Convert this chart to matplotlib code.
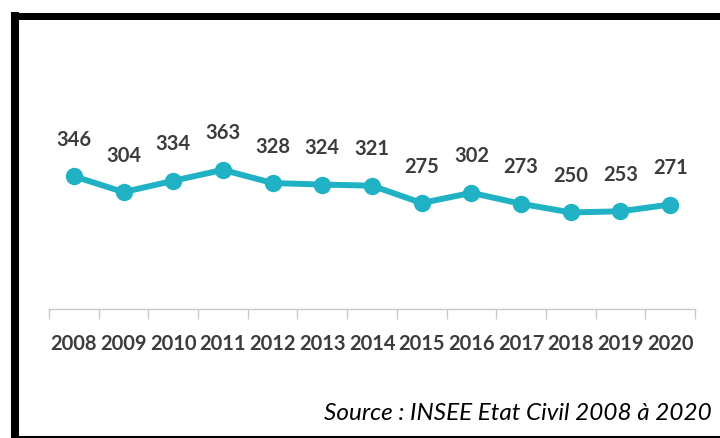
import matplotlib

matplotlib.use("Agg")
import matplotlib.pyplot as plt
from matplotlib.lines import Line2D
import numpy as np

# Annual counts, INSEE Etat Civil
years = ["2008", "2009", "2010", "2011", "2012", "2013", "2014",
         "2015", "2016", "2017", "2018", "2019", "2020"]
counts = [346, 304, 334, 363, 328, 324, 321, 275, 302, 273, 250, 253, 271]
source_text = "Source : INSEE Etat Civil 2008 à 2020"

LINE_COLOR = "#20B2C4"
TEXT_COLOR = "#3c3c3c"
W, H = 720, 439

plt.rcParams["font.family"] = ["Lato", "DejaVu Sans"]

fig = plt.figure(figsize=(W / 100, H / 100), dpi=100)


def px_box(x0, y0, x1, y1):
    """Pixel box (top-left origin) -> figure fraction [left, bottom, w, h]."""
    return [x0 / W, 1 - y1 / H, (x1 - x0) / W, (y1 - y0) / H]


ax = fig.add_axes(px_box(49, 40, 695, 310))

x = np.arange(len(years))
ax.plot(x, counts, color=LINE_COLOR, linewidth=4.3, marker="o",
        markersize=11.5, solid_capstyle="round", zorder=3)

for xi, val in zip(x, counts):
    ax.annotate(str(val), (xi, val), xytext=(0, 27), textcoords="offset points",
                ha="center", va="center", fontsize=14.5, fontweight="bold",
                color=TEXT_COLOR)

ax.set_xlim(-0.5, len(years) - 0.5)
ax.set_ylim(-6, 710)

# category labels at centres, tick marks on the boundaries
ax.set_xticks(x)
ax.set_xticklabels(years, fontsize=14.5, fontweight="bold", color=TEXT_COLOR)
ax.tick_params(axis="x", which="major", length=0, pad=17)
ax.set_xticks(np.arange(-0.5, len(years)), minor=True)
ax.tick_params(axis="x", which="minor", length=7, width=1, color="#c8c8c8")
ax.set_yticks([])

for side in ["top", "left", "right"]:
    ax.spines[side].set_visible(False)
ax.spines["bottom"].set_color("#c8c8c8")
ax.spines["bottom"].set_linewidth(1)

fig.text(712 / W, 1 - 414 / H, source_text, ha="right", va="center",
         fontsize=17.5, fontstyle="italic", color="black")

# black frame around the chart (top, left, bottom)
fig.add_artist(Line2D([11 / W, 1], [1 - 17 / H, 1 - 17 / H], color="black",
                      linewidth=5, solid_capstyle="butt",
                      transform=fig.transFigure))
fig.add_artist(Line2D([15 / W, 15 / W], [1 - 13 / H, 0], color="black",
                      linewidth=5.8, solid_capstyle="butt",
                      transform=fig.transFigure))
fig.add_artist(Line2D([11 / W, 1], [1 - 438 / H, 1 - 438 / H], color="black",
                      linewidth=1.5, solid_capstyle="butt",
                      transform=fig.transFigure))

fig.savefig("out.png", dpi=100)
